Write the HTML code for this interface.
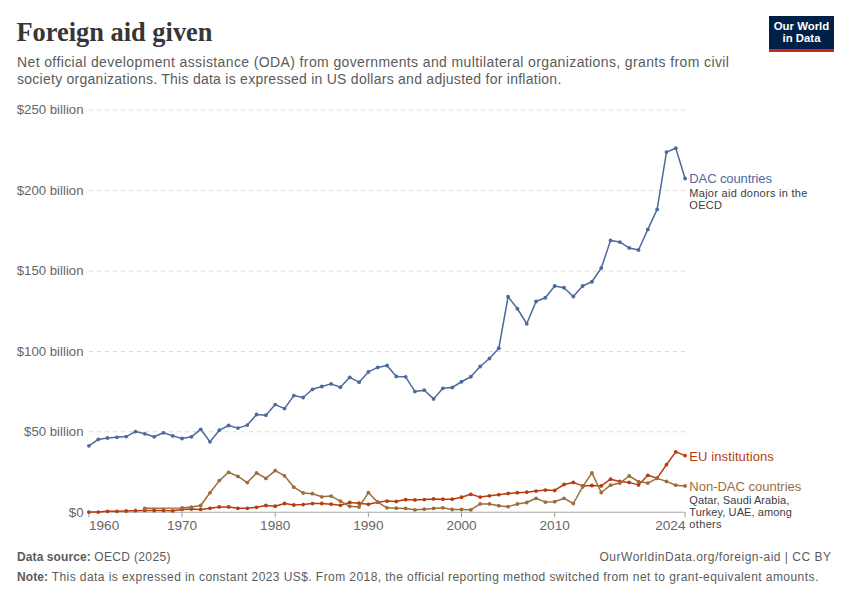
<!DOCTYPE html>
<html><head><meta charset="utf-8">
<style>
html,body{margin:0;padding:0;background:#fff;}
body{width:850px;height:600px;position:relative;overflow:hidden;font-family:"Liberation Sans",sans-serif;}
.title{position:absolute;left:16.5px;top:17px;font-family:"Liberation Serif",serif;font-weight:bold;font-size:26.4px;color:#363636;white-space:nowrap;letter-spacing:0px;}
.subtitle{position:absolute;left:17px;top:53.5px;font-size:14px;line-height:17.3px;color:#5b5b5b;white-space:nowrap;}
.logo{position:absolute;left:769px;top:16px;width:65px;height:36px;background:#002147;}
.logo .bar{position:absolute;left:0;bottom:0;width:65px;height:3px;background:#ce261e;}
.logo .t{position:absolute;left:0;top:4px;width:65px;text-align:center;color:#fff;font-weight:bold;font-size:11.4px;line-height:12px;letter-spacing:0px;}
svg{position:absolute;left:0;top:0;}
.ax{font-size:13.2px;fill:#666666;}
.lab{font-size:13px;}
.sub{font-size:11px;letter-spacing:0.28px;}
.foot{position:absolute;left:17px;font-size:12px;line-height:14px;color:#5b5b5b;white-space:nowrap;}
.foot b{color:#5b5b5b;}
</style></head><body>
<div class="title">Foreign aid given</div>
<div class="subtitle"><div style="letter-spacing:0.38px">Net official development assistance (ODA) from governments and multilateral organizations, grants from civil</div><div style="letter-spacing:0.26px">society organizations. This data is expressed in US dollars and adjusted for inflation.</div></div>
<div class="logo"><div class="t">Our World<br>in Data</div><div class="bar"></div></div>
<svg width="850" height="600">
<line x1="89" y1="110.0" x2="685" y2="110.0" stroke="#dadada" stroke-width="1" stroke-dasharray="4,4"/>
<text x="83.5" y="114.1" text-anchor="end" class="ax">$250 billion</text>
<line x1="89" y1="190.5" x2="685" y2="190.5" stroke="#dadada" stroke-width="1" stroke-dasharray="4,4"/>
<text x="83.5" y="194.6" text-anchor="end" class="ax">$200 billion</text>
<line x1="89" y1="271.0" x2="685" y2="271.0" stroke="#dadada" stroke-width="1" stroke-dasharray="4,4"/>
<text x="83.5" y="275.1" text-anchor="end" class="ax">$150 billion</text>
<line x1="89" y1="351.5" x2="685" y2="351.5" stroke="#dadada" stroke-width="1" stroke-dasharray="4,4"/>
<text x="83.5" y="355.6" text-anchor="end" class="ax">$100 billion</text>
<line x1="89" y1="431.8" x2="685" y2="431.8" stroke="#dadada" stroke-width="1" stroke-dasharray="4,4"/>
<text x="83.5" y="435.90000000000003" text-anchor="end" class="ax">$50 billion</text>
<text x="83.5" y="516.7" text-anchor="end" class="ax">$0</text>
<line x1="89" y1="512.2" x2="685.5" y2="512.2" stroke="#a8a8a8" stroke-width="1.1"/>
<line x1="88.90" y1="512.5" x2="88.90" y2="517.2" stroke="#999999" stroke-width="1"/>
<line x1="182.06" y1="512.5" x2="182.06" y2="517.2" stroke="#999999" stroke-width="1"/>
<line x1="275.21" y1="512.5" x2="275.21" y2="517.2" stroke="#999999" stroke-width="1"/>
<line x1="368.37" y1="512.5" x2="368.37" y2="517.2" stroke="#999999" stroke-width="1"/>
<line x1="461.52" y1="512.5" x2="461.52" y2="517.2" stroke="#999999" stroke-width="1"/>
<line x1="554.68" y1="512.5" x2="554.68" y2="517.2" stroke="#999999" stroke-width="1"/>
<line x1="685.10" y1="512.5" x2="685.10" y2="517.2" stroke="#999999" stroke-width="1"/>
<text x="89.00" y="530.4" text-anchor="start" class="ax" style="font-size:13.6px">1960</text>
<text x="182.06" y="530.4" text-anchor="middle" class="ax" style="font-size:13.6px">1970</text>
<text x="275.21" y="530.4" text-anchor="middle" class="ax" style="font-size:13.6px">1980</text>
<text x="368.37" y="530.4" text-anchor="middle" class="ax" style="font-size:13.6px">1990</text>
<text x="461.52" y="530.4" text-anchor="middle" class="ax" style="font-size:13.6px">2000</text>
<text x="554.68" y="530.4" text-anchor="middle" class="ax" style="font-size:13.6px">2010</text>
<text x="685.50" y="530.4" text-anchor="end" class="ax" style="font-size:13.6px">2024</text>
<path d="M88.90,445.80 L98.22,439.40 L107.53,438.00 L116.85,437.30 L126.16,436.60 L135.48,431.60 L144.79,433.80 L154.11,436.80 L163.43,432.80 L172.74,435.90 L182.06,438.50 L191.37,436.80 L200.69,429.30 L210.00,441.80 L219.32,430.20 L228.63,425.50 L237.95,428.10 L247.27,425.10 L256.58,414.50 L265.90,415.20 L275.21,404.60 L284.53,408.60 L293.84,395.60 L303.16,397.50 L312.48,389.30 L321.79,386.50 L331.11,383.90 L340.42,387.20 L349.74,377.30 L359.05,382.20 L368.37,371.90 L377.68,367.40 L387.00,365.50 L396.32,376.40 L405.63,376.80 L414.95,391.60 L424.26,390.20 L433.58,398.90 L442.89,388.30 L452.21,387.50 L461.52,381.75 L470.84,376.75 L480.16,366.50 L489.47,358.50 L498.79,348.25 L508.10,296.75 L517.42,308.75 L526.73,323.75 L536.05,301.50 L545.37,297.75 L554.68,286.00 L564.00,287.75 L573.31,296.50 L582.63,286.00 L591.94,281.75 L601.26,268.00 L610.58,240.40 L619.89,242.05 L629.21,247.90 L638.52,250.00 L647.84,229.40 L657.15,209.40 L666.47,152.10 L675.78,148.20 L685.10,178.50" fill="none" stroke="#4c6a9c" stroke-width="1.5" stroke-linejoin="round"/>
<g fill="#4c6a9c"><circle cx="88.90" cy="445.80" r="1.9"/><circle cx="98.22" cy="439.40" r="1.9"/><circle cx="107.53" cy="438.00" r="1.9"/><circle cx="116.85" cy="437.30" r="1.9"/><circle cx="126.16" cy="436.60" r="1.9"/><circle cx="135.48" cy="431.60" r="1.9"/><circle cx="144.79" cy="433.80" r="1.9"/><circle cx="154.11" cy="436.80" r="1.9"/><circle cx="163.43" cy="432.80" r="1.9"/><circle cx="172.74" cy="435.90" r="1.9"/><circle cx="182.06" cy="438.50" r="1.9"/><circle cx="191.37" cy="436.80" r="1.9"/><circle cx="200.69" cy="429.30" r="1.9"/><circle cx="210.00" cy="441.80" r="1.9"/><circle cx="219.32" cy="430.20" r="1.9"/><circle cx="228.63" cy="425.50" r="1.9"/><circle cx="237.95" cy="428.10" r="1.9"/><circle cx="247.27" cy="425.10" r="1.9"/><circle cx="256.58" cy="414.50" r="1.9"/><circle cx="265.90" cy="415.20" r="1.9"/><circle cx="275.21" cy="404.60" r="1.9"/><circle cx="284.53" cy="408.60" r="1.9"/><circle cx="293.84" cy="395.60" r="1.9"/><circle cx="303.16" cy="397.50" r="1.9"/><circle cx="312.48" cy="389.30" r="1.9"/><circle cx="321.79" cy="386.50" r="1.9"/><circle cx="331.11" cy="383.90" r="1.9"/><circle cx="340.42" cy="387.20" r="1.9"/><circle cx="349.74" cy="377.30" r="1.9"/><circle cx="359.05" cy="382.20" r="1.9"/><circle cx="368.37" cy="371.90" r="1.9"/><circle cx="377.68" cy="367.40" r="1.9"/><circle cx="387.00" cy="365.50" r="1.9"/><circle cx="396.32" cy="376.40" r="1.9"/><circle cx="405.63" cy="376.80" r="1.9"/><circle cx="414.95" cy="391.60" r="1.9"/><circle cx="424.26" cy="390.20" r="1.9"/><circle cx="433.58" cy="398.90" r="1.9"/><circle cx="442.89" cy="388.30" r="1.9"/><circle cx="452.21" cy="387.50" r="1.9"/><circle cx="461.52" cy="381.75" r="1.9"/><circle cx="470.84" cy="376.75" r="1.9"/><circle cx="480.16" cy="366.50" r="1.9"/><circle cx="489.47" cy="358.50" r="1.9"/><circle cx="498.79" cy="348.25" r="1.9"/><circle cx="508.10" cy="296.75" r="1.9"/><circle cx="517.42" cy="308.75" r="1.9"/><circle cx="526.73" cy="323.75" r="1.9"/><circle cx="536.05" cy="301.50" r="1.9"/><circle cx="545.37" cy="297.75" r="1.9"/><circle cx="554.68" cy="286.00" r="1.9"/><circle cx="564.00" cy="287.75" r="1.9"/><circle cx="573.31" cy="296.50" r="1.9"/><circle cx="582.63" cy="286.00" r="1.9"/><circle cx="591.94" cy="281.75" r="1.9"/><circle cx="601.26" cy="268.00" r="1.9"/><circle cx="610.58" cy="240.40" r="1.9"/><circle cx="619.89" cy="242.05" r="1.9"/><circle cx="629.21" cy="247.90" r="1.9"/><circle cx="638.52" cy="250.00" r="1.9"/><circle cx="647.84" cy="229.40" r="1.9"/><circle cx="657.15" cy="209.40" r="1.9"/><circle cx="666.47" cy="152.10" r="1.9"/><circle cx="675.78" cy="148.20" r="1.9"/><circle cx="685.10" cy="178.50" r="1.9"/></g>
<path d="M88.90,512.10 L98.22,512.10 L107.53,511.30 L116.85,511.30 L126.16,511.00 L135.48,510.70 L144.79,510.40 L154.11,510.50 L163.43,510.50 L172.74,510.80 L182.06,509.40 L191.37,509.10 L200.69,509.40 L210.00,508.30 L219.32,506.90 L228.63,506.90 L237.95,508.30 L247.27,508.30 L256.58,507.30 L265.90,505.50 L275.21,506.20 L284.53,503.50 L293.84,505.00 L303.16,504.60 L312.48,503.60 L321.79,503.50 L331.11,504.20 L340.42,505.30 L349.74,502.50 L359.05,503.20 L368.37,504.30 L377.68,502.20 L387.00,501.10 L396.32,501.40 L405.63,499.60 L414.95,499.90 L424.26,499.60 L433.58,498.90 L442.89,499.20 L452.21,499.20 L461.52,497.20 L470.84,494.30 L480.16,497.10 L489.47,495.80 L498.79,494.70 L508.10,493.40 L517.42,492.70 L526.73,492.20 L536.05,491.10 L545.37,490.10 L554.68,490.40 L564.00,484.50 L573.31,482.40 L582.63,485.90 L591.94,485.50 L601.26,485.90 L610.58,479.20 L619.89,481.50 L629.21,482.40 L638.52,484.90 L647.84,475.30 L657.15,478.10 L666.47,464.70 L675.78,451.90 L685.10,455.60" fill="none" stroke="#b93c10" stroke-width="1.5" stroke-linejoin="round"/>
<g fill="#b93c10"><circle cx="88.90" cy="512.10" r="1.9"/><circle cx="98.22" cy="512.10" r="1.9"/><circle cx="107.53" cy="511.30" r="1.9"/><circle cx="116.85" cy="511.30" r="1.9"/><circle cx="126.16" cy="511.00" r="1.9"/><circle cx="135.48" cy="510.70" r="1.9"/><circle cx="144.79" cy="510.40" r="1.9"/><circle cx="154.11" cy="510.50" r="1.9"/><circle cx="163.43" cy="510.50" r="1.9"/><circle cx="172.74" cy="510.80" r="1.9"/><circle cx="182.06" cy="509.40" r="1.9"/><circle cx="191.37" cy="509.10" r="1.9"/><circle cx="200.69" cy="509.40" r="1.9"/><circle cx="210.00" cy="508.30" r="1.9"/><circle cx="219.32" cy="506.90" r="1.9"/><circle cx="228.63" cy="506.90" r="1.9"/><circle cx="237.95" cy="508.30" r="1.9"/><circle cx="247.27" cy="508.30" r="1.9"/><circle cx="256.58" cy="507.30" r="1.9"/><circle cx="265.90" cy="505.50" r="1.9"/><circle cx="275.21" cy="506.20" r="1.9"/><circle cx="284.53" cy="503.50" r="1.9"/><circle cx="293.84" cy="505.00" r="1.9"/><circle cx="303.16" cy="504.60" r="1.9"/><circle cx="312.48" cy="503.60" r="1.9"/><circle cx="321.79" cy="503.50" r="1.9"/><circle cx="331.11" cy="504.20" r="1.9"/><circle cx="340.42" cy="505.30" r="1.9"/><circle cx="349.74" cy="502.50" r="1.9"/><circle cx="359.05" cy="503.20" r="1.9"/><circle cx="368.37" cy="504.30" r="1.9"/><circle cx="377.68" cy="502.20" r="1.9"/><circle cx="387.00" cy="501.10" r="1.9"/><circle cx="396.32" cy="501.40" r="1.9"/><circle cx="405.63" cy="499.60" r="1.9"/><circle cx="414.95" cy="499.90" r="1.9"/><circle cx="424.26" cy="499.60" r="1.9"/><circle cx="433.58" cy="498.90" r="1.9"/><circle cx="442.89" cy="499.20" r="1.9"/><circle cx="452.21" cy="499.20" r="1.9"/><circle cx="461.52" cy="497.20" r="1.9"/><circle cx="470.84" cy="494.30" r="1.9"/><circle cx="480.16" cy="497.10" r="1.9"/><circle cx="489.47" cy="495.80" r="1.9"/><circle cx="498.79" cy="494.70" r="1.9"/><circle cx="508.10" cy="493.40" r="1.9"/><circle cx="517.42" cy="492.70" r="1.9"/><circle cx="526.73" cy="492.20" r="1.9"/><circle cx="536.05" cy="491.10" r="1.9"/><circle cx="545.37" cy="490.10" r="1.9"/><circle cx="554.68" cy="490.40" r="1.9"/><circle cx="564.00" cy="484.50" r="1.9"/><circle cx="573.31" cy="482.40" r="1.9"/><circle cx="582.63" cy="485.90" r="1.9"/><circle cx="591.94" cy="485.50" r="1.9"/><circle cx="601.26" cy="485.90" r="1.9"/><circle cx="610.58" cy="479.20" r="1.9"/><circle cx="619.89" cy="481.50" r="1.9"/><circle cx="629.21" cy="482.40" r="1.9"/><circle cx="638.52" cy="484.90" r="1.9"/><circle cx="647.84" cy="475.30" r="1.9"/><circle cx="657.15" cy="478.10" r="1.9"/><circle cx="666.47" cy="464.70" r="1.9"/><circle cx="675.78" cy="451.90" r="1.9"/><circle cx="685.10" cy="455.60" r="1.9"/></g>
<path d="M144.79,508.30 L182.06,508.00 L191.37,507.10 L200.69,505.50 L210.00,492.80 L219.32,480.60 L228.63,472.30 L237.95,476.40 L247.27,482.60 L256.58,473.00 L265.90,478.40 L275.21,470.60 L284.53,475.85 L293.84,487.20 L303.16,492.90 L312.48,493.70 L321.79,496.80 L331.11,496.10 L340.42,501.10 L349.74,506.30 L359.05,507.00 L368.37,492.60 L377.68,502.20 L387.00,507.80 L396.32,508.20 L405.63,508.40 L414.95,509.80 L424.26,509.20 L433.58,508.40 L442.89,507.80 L452.21,509.50 L461.52,509.50 L470.84,509.80 L480.16,503.90 L489.47,503.90 L498.79,505.70 L508.10,506.65 L517.42,504.00 L526.73,502.50 L536.05,498.30 L545.37,502.10 L554.68,501.70 L564.00,498.30 L573.31,503.50 L582.63,486.90 L591.94,472.90 L601.26,492.50 L610.58,485.20 L619.89,483.10 L629.21,476.00 L638.52,481.60 L647.84,483.10 L657.15,478.40 L666.47,481.40 L675.78,485.20 L685.10,485.90" fill="none" stroke="#9a6e3c" stroke-width="1.5" stroke-linejoin="round"/>
<g fill="#9a6e3c"><circle cx="144.79" cy="508.30" r="1.9"/><circle cx="182.06" cy="508.00" r="1.9"/><circle cx="191.37" cy="507.10" r="1.9"/><circle cx="200.69" cy="505.50" r="1.9"/><circle cx="210.00" cy="492.80" r="1.9"/><circle cx="219.32" cy="480.60" r="1.9"/><circle cx="228.63" cy="472.30" r="1.9"/><circle cx="237.95" cy="476.40" r="1.9"/><circle cx="247.27" cy="482.60" r="1.9"/><circle cx="256.58" cy="473.00" r="1.9"/><circle cx="265.90" cy="478.40" r="1.9"/><circle cx="275.21" cy="470.60" r="1.9"/><circle cx="284.53" cy="475.85" r="1.9"/><circle cx="293.84" cy="487.20" r="1.9"/><circle cx="303.16" cy="492.90" r="1.9"/><circle cx="312.48" cy="493.70" r="1.9"/><circle cx="321.79" cy="496.80" r="1.9"/><circle cx="331.11" cy="496.10" r="1.9"/><circle cx="340.42" cy="501.10" r="1.9"/><circle cx="349.74" cy="506.30" r="1.9"/><circle cx="359.05" cy="507.00" r="1.9"/><circle cx="368.37" cy="492.60" r="1.9"/><circle cx="377.68" cy="502.20" r="1.9"/><circle cx="387.00" cy="507.80" r="1.9"/><circle cx="396.32" cy="508.20" r="1.9"/><circle cx="405.63" cy="508.40" r="1.9"/><circle cx="414.95" cy="509.80" r="1.9"/><circle cx="424.26" cy="509.20" r="1.9"/><circle cx="433.58" cy="508.40" r="1.9"/><circle cx="442.89" cy="507.80" r="1.9"/><circle cx="452.21" cy="509.50" r="1.9"/><circle cx="461.52" cy="509.50" r="1.9"/><circle cx="470.84" cy="509.80" r="1.9"/><circle cx="480.16" cy="503.90" r="1.9"/><circle cx="489.47" cy="503.90" r="1.9"/><circle cx="498.79" cy="505.70" r="1.9"/><circle cx="508.10" cy="506.65" r="1.9"/><circle cx="517.42" cy="504.00" r="1.9"/><circle cx="526.73" cy="502.50" r="1.9"/><circle cx="536.05" cy="498.30" r="1.9"/><circle cx="545.37" cy="502.10" r="1.9"/><circle cx="554.68" cy="501.70" r="1.9"/><circle cx="564.00" cy="498.30" r="1.9"/><circle cx="573.31" cy="503.50" r="1.9"/><circle cx="582.63" cy="486.90" r="1.9"/><circle cx="591.94" cy="472.90" r="1.9"/><circle cx="601.26" cy="492.50" r="1.9"/><circle cx="610.58" cy="485.20" r="1.9"/><circle cx="619.89" cy="483.10" r="1.9"/><circle cx="629.21" cy="476.00" r="1.9"/><circle cx="638.52" cy="481.60" r="1.9"/><circle cx="647.84" cy="483.10" r="1.9"/><circle cx="657.15" cy="478.40" r="1.9"/><circle cx="666.47" cy="481.40" r="1.9"/><circle cx="675.78" cy="485.20" r="1.9"/><circle cx="685.10" cy="485.90" r="1.9"/></g>
<text x="689.3" y="183.2" class="lab" fill="#4c6a9c" style="letter-spacing:-0.1px">DAC countries</text>
<text class="sub" fill="#3d3d3d"><tspan x="689.3" y="196.5">Major aid donors in the</tspan><tspan x="689.3" y="209">OECD</tspan></text>
<text x="689.3" y="460.5" class="lab" fill="#b93c10" style="letter-spacing:0.1px">EU institutions</text>
<text x="689.3" y="490.5" class="lab" fill="#9a6e3c">Non-DAC countries</text>
<text class="sub" fill="#3d3d3d"><tspan x="689.3" y="504.4" style="letter-spacing:0.08px">Qatar, Saudi Arabia,</tspan><tspan x="689.3" y="516" style="letter-spacing:0.1px">Turkey, UAE, among</tspan><tspan x="689.3" y="527.5" style="letter-spacing:0.35px">others</tspan></text>
</svg>
<div class="foot" style="top:550px;"><b style="letter-spacing:0.1px">Data source:</b> <span style="letter-spacing:0.35px">OECD (2025)</span></div>
<div class="foot" style="top:550px;left:auto;right:18.5px;letter-spacing:0.5px;">OurWorldinData.org/foreign-aid | CC BY</div>
<div class="foot" style="top:570px;letter-spacing:0.43px;"><b style="letter-spacing:0.1px">Note:</b> This data is expressed in constant 2023 US$. From 2018, the official reporting method switched from net to grant-equivalent amounts.</div>
</body></html>
